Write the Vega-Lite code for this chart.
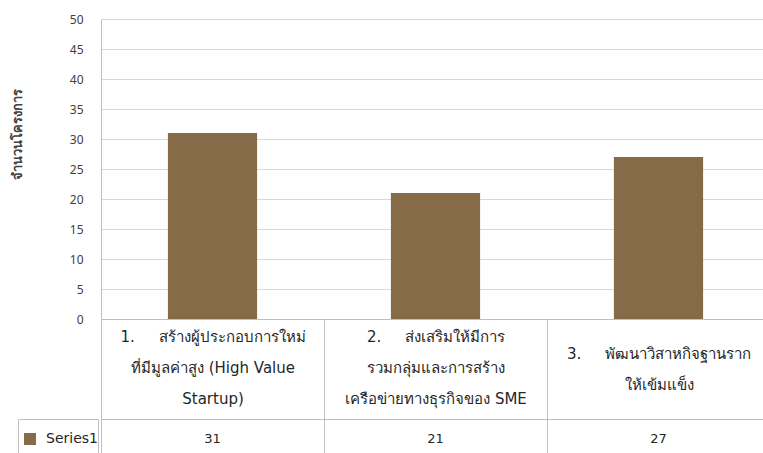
{
  "$schema": "https://vega.github.io/schema/vega-lite/v6.json",
  "padding": {"left": 10, "top": 13, "right": 0, "bottom": 0},
  "autosize": {"type": "pad"},
  "data": {
    "values": [
      {"label": "1.\u00a0\u00a0\u00a0\u00a0\u00a0สร้างผู้ประกอบการใหม่|ที่มีมูลค่าสูง (High Value|Startup)", "value": 31, "series": "Series1"},
      {"label": "2.\u00a0\u00a0\u00a0\u00a0\u00a0ส่งเสริมให้มีการ|รวมกลุ่มและการสร้าง|เครือข่ายทางธุรกิจของ SME", "value": 21, "series": "Series1"},
      {"label": "3.\u00a0\u00a0\u00a0\u00a0\u00a0พัฒนาวิสาหกิจฐานราก|ให้เข้มแข็ง", "value": 27, "series": "Series1"}
    ]
  },
  "spacing": 100,
  "bounds": "flush",
  "resolve": {"scale": {"color": "independent"}},
  "vconcat": [
    {
      "width": 669,
      "height": 300,
      "mark": {"type": "bar", "width": {"band": 0.4}},
      "encoding": {
        "x": {
          "field": "label", "type": "nominal", "sort": null,
          "scale": {"paddingInner": 0, "paddingOuter": 0},
          "axis": {
            "title": null,
            "labelExpr": "split(datum.label, '|')",
            "labelAngle": 0,
            "labelBaseline": "middle",
            "labelPadding": {"condition": {"test": "length(split(datum.value, '|')) == 2", "value": -66}, "value": -83},
            "labelLineHeight": 31,
            "labelFont": "DejaVu Sans",
            "labelFontSize": 15,
            "labelColor": "#262626",
            "labelLimit": 240,
            "labelOverlap": false,
            "labelFlush": false,
            "tickBand": "extent",
            "tickSize": 100,
            "tickColor": "#bfbfbf",
            "domainColor": "#bfbfbf",
            "grid": false
          }
        },
        "y": {
          "field": "value", "type": "quantitative",
          "scale": {"domain": [0, 50]},
          "axis": {
            "title": "จำนวนโครงการ",
            "values": [0, 5, 10, 15, 20, 25, 30, 35, 40, 45, 50],
            "ticks": false,
            "labelPadding": 18,
            "labelFontSize": 12,
            "labelColor": "#404040",
            "gridColor": "#d9d9d9",
            "domainColor": "#bfbfbf",
            "titleFontSize": 13,
            "titleFontWeight": "bold",
            "titleColor": "#404040",
            "titleX": -84,
            "titleY": 115,
            "titleBaseline": "middle"
          }
        },
        "color": {
          "field": "series", "type": "nominal",
          "scale": {"range": ["#856b48"]},
          "legend": {
            "orient": "none",
            "legendX": -83,
            "legendY": 400,
            "title": null,
            "symbolType": "M-0.647,-0.353H0.059V0.353H-0.647Z",
            "symbolSize": 1156,
            "symbolStrokeWidth": 0,
            "clipHeight": 40,
            "padding": 0,
            "labelOffset": -6,
            "labelExpr": "datum.label + '\u00a0\u2009\u2009'",
            "strokeColor": "#bfbfbf",
            "labelFont": "DejaVu Sans",
            "labelFontSize": 14,
            "labelColor": "#262626"
          }
        }
      }
    },
    {
      "width": 669,
      "height": 40,
      "view": {"stroke": "#bfbfbf"},
      "mark": {"type": "text", "font": "DejaVu Sans", "fontSize": 13, "color": "#262626"},
      "encoding": {
        "x": {
          "field": "label", "type": "nominal", "sort": null,
          "scale": {"paddingInner": 0, "paddingOuter": 0},
          "axis": {
            "orient": "top",
            "title": null,
            "labels": false,
            "ticks": false,
            "domain": false,
            "grid": true,
            "tickBand": "extent",
            "gridColor": "#bfbfbf"
          }
        },
        "text": {"field": "value", "type": "quantitative"}
      }
    }
  ],
  "config": {
    "font": "Noto Sans",
    "view": {"stroke": null}
  }
}
